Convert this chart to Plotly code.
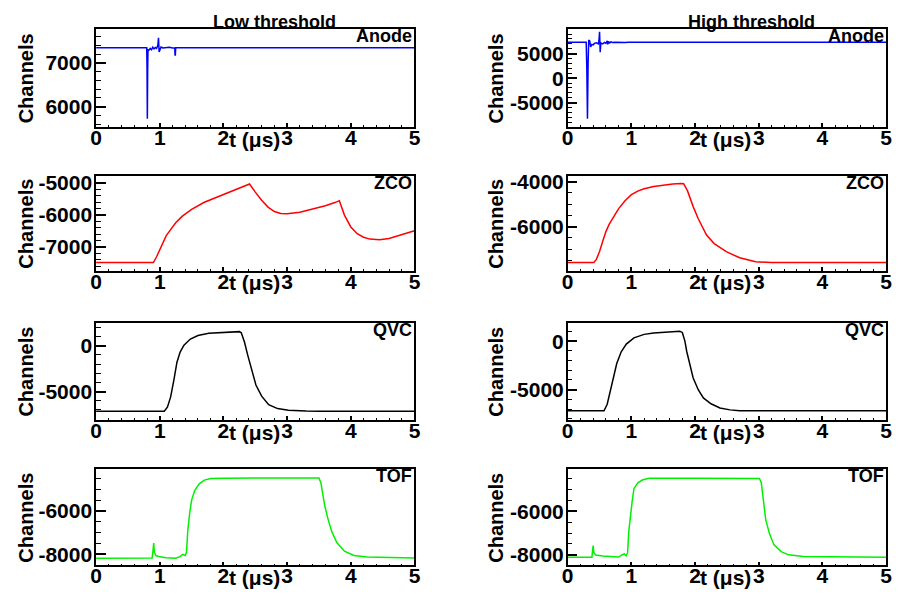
import plotly.graph_objects as go

W, H = 901, 594

# ---------------- data (time in microseconds, amplitude in channels) ----------------
anode_low_t = [0, 0.795, 0.800, 0.805, 0.810, 0.815, 0.83, 0.85, 0.87, 0.89, 0.91, 0.93, 0.95, 0.97,
               0.98, 0.99, 1.00, 1.02, 1.05, 1.10, 1.15, 1.20, 1.235, 1.24, 1.245, 1.25, 1.255, 1.30, 5.0]
anode_low_v = [7345, 7345, 6900, 5720, 6800, 7300, 7290, 7330, 7300, 7360, 7320, 7350, 7330, 7400,
               7575, 7250, 7300, 7360, 7340, 7345, 7355, 7340, 7345, 7180, 7180, 7345, 7345, 7345, 7345]

anode_high_t = [0, 0.29, 0.30, 0.31, 0.32, 0.33, 0.345, 0.36, 0.38, 0.40, 0.42, 0.45, 0.48, 0.49, 0.50,
                0.505, 0.51, 0.52, 0.55, 0.58, 0.60, 0.62, 0.63, 0.64, 0.66, 0.68, 0.70, 0.75, 0.80,
                0.85, 0.90, 0.95, 5.0]
anode_high_v = [7335, 7335, 2000, -8300, 3000, 7800, 7600, 6400, 6900, 6800, 7100, 7200, 7000, 7600, 9450,
                6000, 5300, 7200, 7000, 7300, 7100, 7600, 6900, 7500, 7200, 7400, 7300, 7350, 7300,
                7335, 7300, 7335, 7335]

zco_low_t = [0, 0.90, 0.95, 1.0, 1.05, 1.10, 1.15, 1.25, 1.35, 1.5, 1.7, 1.9, 2.1, 2.3, 2.41, 2.5, 2.6,
             2.7, 2.8, 2.9, 3.0, 3.2, 3.4, 3.6, 3.75, 3.82, 3.9, 4.0, 4.1, 4.2, 4.3, 4.45, 4.6, 4.8, 5.0]
zco_low_v = [-7480, -7480, -7300, -7070, -6840, -6650, -6510, -6240, -6040, -5820, -5600, -5440, -5290,
             -5140, -5030, -5285, -5540, -5750, -5890, -5950, -5960, -5910, -5820, -5710, -5610, -5550,
             -6000, -6370, -6580, -6690, -6750, -6770, -6730, -6620, -6490]

zco_high_t = [0, 0.41, 0.45, 0.5, 0.55, 0.6, 0.65, 0.73, 0.8, 0.9, 1.0, 1.1, 1.2, 1.35, 1.5, 1.65, 1.78,
              1.82, 1.88, 1.93, 1.97, 2.05, 2.18, 2.3, 2.49, 2.7, 2.95, 3.2, 5.0]
zco_high_v = [-7590, -7590, -7450, -7100, -6650, -6220, -5900, -5550, -5200, -4850, -4580, -4420, -4320,
              -4220, -4150, -4110, -4080, -4090, -4400, -4800, -5110, -5650, -6370, -6750, -7110, -7380,
              -7556, -7590, -7590]

qvc_low_t = [0, 1.07, 1.12, 1.17, 1.22, 1.27, 1.32, 1.38, 1.48, 1.6, 1.77, 2.0, 2.25, 2.28, 2.33, 2.38,
             2.41, 2.46, 2.51, 2.6, 2.71, 2.85, 3.02, 3.3, 3.5, 5.0]
qvc_low_v = [-7140, -7140, -6700, -5600, -3800, -1800, -700, 50, 720, 1100, 1350, 1470, 1530, 1400, 400,
             -1000, -1790, -3200, -4280, -5500, -6420, -6850, -7030, -7120, -7140, -7140]

qvc_high_t = [0, 0.57, 0.62, 0.66, 0.71, 0.77, 0.84, 0.92, 1.04, 1.2, 1.35, 1.55, 1.76, 1.80, 1.84, 1.87,
              1.92, 1.97, 2.05, 2.13, 2.25, 2.39, 2.55, 2.7, 5.0]
qvc_high_v = [-7170, -7170, -6500, -5300, -3800, -2300, -1090, -300, 340, 700, 850, 960, 1020, 900, 0,
              -1090, -2500, -3800, -5000, -5850, -6450, -6880, -7080, -7170, -7170]

tof_low_t = [0, 0.88, 0.895, 0.905, 0.915, 0.94, 1.0, 1.1, 1.25, 1.32, 1.36, 1.40, 1.42, 1.44, 1.47, 1.50,
             1.55, 1.62, 1.70, 1.80, 2.0, 3.0, 3.5, 3.53, 3.56, 3.59, 3.64, 3.70, 3.78, 3.90, 4.05,
             4.26, 5.0]
tof_low_v = [-8170, -8160, -7800, -7470, -7900, -8050, -8110, -8150, -8170, -8100, -8000, -8050, -7900,
             -6900, -6100, -5500, -5050, -4750, -4580, -4510, -4490, -4490, -4480, -4700, -5300, -5750,
             -6350, -6940, -7450, -7850, -8050, -8120, -8160]

tof_high_t = [0, 0.38, 0.39, 0.40, 0.41, 0.44, 0.55, 0.70, 0.80, 0.85, 0.89, 0.92, 0.94, 0.96, 0.98, 1.01,
              1.04, 1.10, 1.18, 1.28, 2.0, 3.01, 3.04, 3.08, 3.11, 3.17, 3.24, 3.35, 3.47, 3.7, 5.0]
tof_high_v = [-8110, -8110, -7800, -7580, -7900, -8010, -8050, -8080, -8100, -8000, -7960, -8040, -7900,
              -6900, -6270, -5600, -4970, -4700, -4560, -4490, -4490, -4500, -4700, -5700, -6400, -7050,
              -7545, -7850, -8000, -8080, -8110]

x_ticks = [0, 1, 2, 3, 4, 5]
column_titles = ["Low threshold", "High threshold"]

panels = [
    dict(label="Anode", t=anode_low_t, v=anode_low_v, color="#0000ff", yr=[5530, 7770],
         ticks=[6000, 7000], minor=200, row=0, col=0),
    dict(label="Anode", t=anode_high_t, v=anode_high_v, color="#0000ff", yr=[-9980, 9990],
         ticks=[-5000, 0, 5000], minor=1000, row=0, col=1),
    dict(label="ZCO", t=zco_low_t, v=zco_low_v, color="#ff0000", yr=[-7740, -4780],
         ticks=[-7000, -6000, -5000], minor=200, row=1, col=0),
    dict(label="ZCO", t=zco_high_t, v=zco_high_v, color="#ff0000", yr=[-7960, -3750],
         ticks=[-6000, -4000], minor=500, row=1, col=1),
    dict(label="QVC", t=qvc_low_t, v=qvc_low_v, color="#000000", yr=[-8100, 2500],
         ticks=[-5000, 0], minor=1000, row=2, col=0),
    dict(label="QVC", t=qvc_high_t, v=qvc_high_v, color="#000000", yr=[-8130, 1900],
         ticks=[-5000, 0], minor=1000, row=2, col=1),
    dict(label="TOF", t=tof_low_t, v=tof_low_v, color="#00f000", yr=[-8500, -4090],
         ticks=[-8000, -6000], minor=500, row=3, col=0),
    dict(label="TOF", t=tof_high_t, v=tof_high_v, color="#00f000", yr=[-8480, -4090],
         ticks=[-8000, -6000], minor=500, row=3, col=1),
]

# ---------------- layout geometry (pixels) ----------------
col_x = [(91.3, 414.0), (569.3, 892.0)]
row_y = [(23.5, 122.5), (172.0, 268.0), (320.5, 419.0), (469.0, 566.0)]
ylab_x = [20.5, 497.0]

FONT = "Liberation Sans, Arial, Helvetica, sans-serif"
TICK_SIZE = 21

fig = go.Figure()
layout = dict(
    width=W, height=H, margin=dict(l=0, r=0, t=0, b=0),
    paper_bgcolor="white", plot_bgcolor="white", showlegend=False,
    font=dict(family=FONT, color="black"),
)
annotations = []

for i, p in enumerate(panels):
    n = i + 1
    xs = "" if n == 1 else str(n)
    x0, x1 = col_x[p["col"]]
    y0, y1 = row_y[p["row"]]
    fig.add_trace(go.Scatter(x=p["t"], y=p["v"], mode="lines",
                             line=dict(color=p["color"], width=1.5),
                             xaxis="x" + xs, yaxis="y" + xs, hoverinfo="skip"))
    layout["xaxis" + xs] = dict(
        domain=[x0 / W, x1 / W], anchor="y" + xs, range=[0, 5],
        tickmode="array", tickvals=x_ticks, ticktext=[str(v) for v in x_ticks],
        ticks="inside", ticklen=4, tickwidth=1.5, tickcolor="black",
        minor=dict(tickmode="linear", tick0=0, dtick=0.2, ticks="inside", ticklen=2, tickwidth=1.2,
                   tickcolor="black"),
        showline=True, linecolor="black", linewidth=1.5, mirror=True,
        showgrid=False, zeroline=False, fixedrange=True, ticklabelstandoff=-9,
        tickfont=dict(family=FONT, size=TICK_SIZE, color="black", weight="bold"),
    )
    layout["yaxis" + xs] = dict(
        domain=[1 - y1 / H, 1 - y0 / H], anchor="x" + xs, range=p["yr"],
        tickmode="array", tickvals=p["ticks"], ticktext=[str(v) for v in p["ticks"]],
        ticks="inside", ticklen=10, tickwidth=1.5, tickcolor="black",
        minor=dict(tickmode="linear", tick0=0, dtick=p["minor"], ticks="inside", ticklen=5,
                   tickwidth=1.2, tickcolor="black"),
        showline=True, linecolor="black", linewidth=1.5, mirror=True,
        showgrid=False, zeroline=False, fixedrange=True, ticklabelstandoff=-2,
        tickfont=dict(family=FONT, size=TICK_SIZE, color="black", weight="bold"),
    )
    # panel label
    annotations.append(dict(text="<b>%s</b>" % p["label"], xref="x%s domain" % xs, yref="y%s domain" % xs,
                            x=1, y=1, yshift=5, xanchor="right", yanchor="top", showarrow=False,
                            font=dict(family=FONT, size=18, color="black")))
    # x-axis title placed between ticks 2 and 3 (ROOT style)
    annotations.append(dict(text="<b>t (\u03bcs)</b>", xref="x" + xs, yref="y%s domain" % xs,
                            x=2.48, y=0, yshift=-12, xanchor="center", yanchor="middle", showarrow=False,
                            font=dict(family=FONT, size=TICK_SIZE, color="black")))
    # y-axis title
    annotations.append(dict(text="<b>Channels</b>", xref="paper", yref="paper",
                            x=ylab_x[p["col"]] / W, y=1 - (y0 + y1) / 2 / H, textangle=-90,
                            xanchor="center", yanchor="middle", showarrow=False,
                            font=dict(family=FONT, size=20, color="black")))

title_x = [272.0, 755.5]
for c, ttl in enumerate(column_titles):
    annotations.append(dict(text="<b>%s</b>" % ttl, xref="paper", yref="paper",
                            x=title_x[c] / W, y=1 - 16.0 / H, xanchor="center", yanchor="middle",
                            showarrow=False, font=dict(family=FONT, size=18, color="black")))

layout["annotations"] = annotations
fig.update_layout(**layout)
fig.write_html("out.html")
